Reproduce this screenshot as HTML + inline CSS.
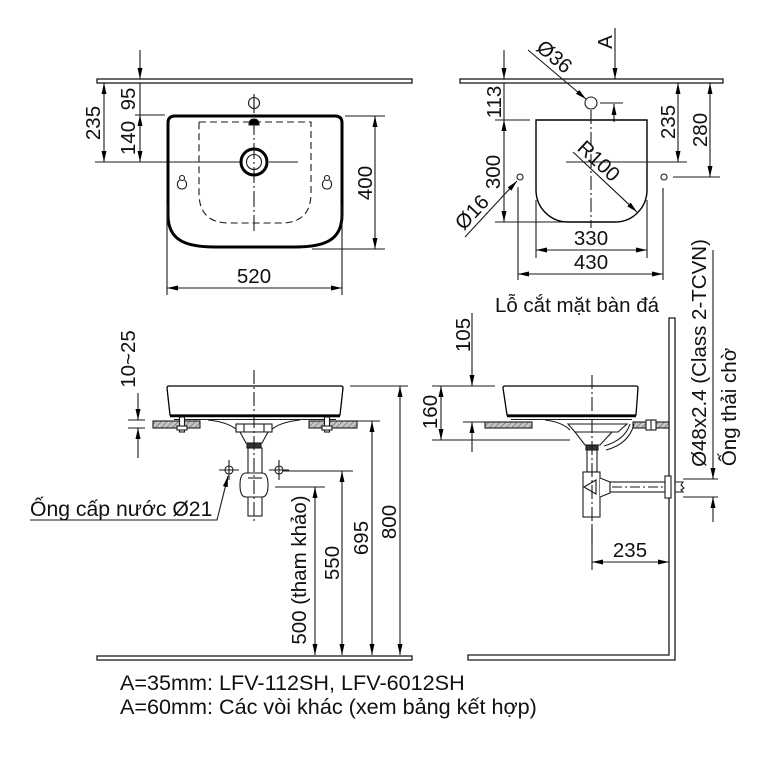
<!DOCTYPE html>
<html><head><meta charset="utf-8">
<style>
html,body{margin:0;padding:0;background:#fff}
svg{display:block}
text{font-family:"Liberation Sans","Noto Sans CJK SC",Arial,sans-serif;font-size:20.5px;fill:#111;stroke:none}
.big{font-size:21.6px}
</style></head>
<body>
<svg width="768" height="768" viewBox="0 0 768 768" xmlns="http://www.w3.org/2000/svg">
<defs>
<marker id="a" viewBox="0 0 11 5" refX="11" refY="2.5" markerWidth="11" markerHeight="5" markerUnits="userSpaceOnUse" orient="auto-start-reverse"><path d="M0,0L11,2.5L0,5z" fill="#000"/></marker>
<pattern id="h" width="4" height="4" patternUnits="userSpaceOnUse" patternTransform="rotate(45)"><rect width="4" height="4" fill="#c4c4c4"/><line x1="0" y1="0" x2="0" y2="4" stroke="#555" stroke-width="1"/></pattern>
</defs>

<g stroke="#1a1a1a" stroke-width="1.1" fill="none">
<!-- ================= TOP LEFT ================= -->
<rect x="97" y="79" width="315" height="4" stroke-width="1.3" fill="#fff"/>
<line x1="140" y1="50" x2="140" y2="79" marker-end="url(#a)"/>
<line x1="140" y1="83" x2="140" y2="115"/>
<line x1="140" y1="115" x2="140" y2="162" marker-start="url(#a)" marker-end="url(#a)"/>
<line x1="104" y1="83" x2="104" y2="162" marker-start="url(#a)" marker-end="url(#a)"/>
<line x1="95" y1="162" x2="240" y2="162"/>
<line x1="269" y1="162" x2="298" y2="162"/>
<line x1="135" y1="115" x2="165" y2="115"/>
<path d="M168,123 Q168,116 175,116 L335,116 Q342,116 342,123 L342,215 C342,240 325,247 295,247 L215,247 C185,247 168,240 168,215 Z" stroke="#000" stroke-width="3"/>
<path d="M199,122 L311,122 L311,193 Q311,223 281,223 L229,223 Q199,223 199,193 Z" stroke-dasharray="7,4"/>
<line x1="254" y1="95" x2="254" y2="233" stroke-dasharray="16,3,2,3"/>
<circle cx="254" cy="162" r="13" stroke="#000" stroke-width="3"/>
<circle cx="254" cy="162" r="7.5"/>
<circle cx="254" cy="103" r="5.5"/>
<line x1="254" y1="94" x2="254" y2="113"/>
<path d="M249,125 Q249,119 254,119 Q259,119 259,125 Z" fill="#000"/>
<circle cx="182" cy="178" r="2.5"/>
<path d="M179.5,180 C176,183 177,189 182,189 C187,189 188,183 184.5,180"/>
<circle cx="327" cy="178" r="2.5"/>
<path d="M324.5,180 C321,183 322,189 327,189 C332,189 333,183 329.5,180"/>
<line x1="345" y1="116" x2="385" y2="116"/>
<line x1="312" y1="249" x2="385" y2="249"/>
<line x1="375" y1="116" x2="375" y2="249" marker-start="url(#a)" marker-end="url(#a)"/>
<line x1="167" y1="205" x2="167" y2="295"/>
<line x1="342" y1="205" x2="342" y2="295"/>
<line x1="167" y1="288" x2="342" y2="288" marker-start="url(#a)" marker-end="url(#a)"/>

<!-- ================= TOP RIGHT ================= -->
<rect x="460" y="79" width="263" height="4" stroke-width="1.3" fill="#fff"/>
<line x1="504" y1="50" x2="504" y2="79" marker-end="url(#a)"/>
<line x1="504" y1="83" x2="504" y2="120"/>
<line x1="504" y1="120" x2="504" y2="222" marker-start="url(#a)" marker-end="url(#a)"/>
<line x1="495" y1="120" x2="530" y2="120"/>
<line x1="495" y1="222" x2="565" y2="222"/>
<line x1="615" y1="28" x2="615" y2="79" marker-end="url(#a)"/>
<line x1="528" y1="50" x2="586" y2="99" marker-end="url(#a)"/>
<circle cx="591" cy="103" r="6"/>
<line x1="600" y1="103" x2="623" y2="103"/>
<line x1="614" y1="122" x2="614" y2="104" marker-end="url(#a)"/>
<path d="M536,120 L647,120 L647,190 A32,32 0 0 1 615,222 L568,222 A32,32 0 0 1 536,190 Z" stroke="#000" stroke-width="1.4"/>
<line x1="591" y1="110" x2="591" y2="228" stroke-dasharray="14,3,2,3"/>
<line x1="566" y1="162" x2="687" y2="162"/>
<line x1="573" y1="152" x2="637" y2="212" marker-end="url(#a)"/>
<line x1="678" y1="83" x2="678" y2="162" marker-start="url(#a)" marker-end="url(#a)"/>
<line x1="710" y1="83" x2="710" y2="177" marker-start="url(#a)" marker-end="url(#a)"/>
<line x1="673" y1="177" x2="720" y2="177"/>
<circle cx="664" cy="177" r="3"/>
<circle cx="520" cy="177" r="3"/>
<line x1="465" y1="237" x2="517" y2="181" marker-end="url(#a)"/>
<line x1="518" y1="187" x2="518" y2="280"/>
<line x1="663" y1="188" x2="663" y2="280"/>
<line x1="536" y1="200" x2="536" y2="258"/>
<line x1="647" y1="200" x2="647" y2="258"/>
<line x1="536" y1="250" x2="647" y2="250" marker-start="url(#a)" marker-end="url(#a)"/>
<line x1="518" y1="274" x2="663" y2="274" marker-start="url(#a)" marker-end="url(#a)"/>

<!-- ================= BOTTOM LEFT ================= -->
<line x1="128" y1="420" x2="145" y2="420"/>
<line x1="128" y1="428" x2="145" y2="428"/>
<line x1="138" y1="393" x2="138" y2="420" marker-end="url(#a)"/>
<line x1="138" y1="458" x2="138" y2="428" marker-end="url(#a)"/>
<path d="M169,386 L341,386 Q343,386 343,388 L340,415 L170,415 L167,388 Q167,386 169,386 Z" stroke="#000" stroke-width="1.3"/>
<line x1="170" y1="416" x2="340" y2="416" stroke="#000" stroke-width="2.5"/>
<line x1="174" y1="419.5" x2="336" y2="419.5"/>
<rect x="153" y="421" width="47" height="7" fill="url(#h)"/>
<rect x="309" y="421" width="48" height="7" fill="url(#h)"/>
<rect x="179.5" y="417" width="5" height="15" fill="#fff"/>
<rect x="177" y="426" width="10" height="4" fill="#fff"/>
<rect x="324.5" y="417" width="5" height="15" fill="#fff"/>
<rect x="322" y="426" width="10" height="4" fill="#fff"/>
<path d="M208,420 Q228,422 237,430 M300,420 Q280,422 271,430"/>
<rect x="236" y="424" width="36" height="8" fill="#fff"/>
<line x1="244" y1="424" x2="244" y2="432"/><line x1="264" y1="424" x2="264" y2="432"/>
<path d="M240,432 L268,432 L262,443 L246,443 Z" fill="#fff"/>
<rect x="247" y="443" width="14" height="5" fill="#333"/>
<rect x="248" y="448" width="14" height="68" fill="#fff"/>
<path d="M246,473 L262,473 Q268,473 268,485 Q268,497 262,497 L246,497 Q240,497 240,485 Q240,473 246,473 Z" fill="#fff"/>
<line x1="248" y1="478" x2="262" y2="478"/>
<line x1="254" y1="370" x2="254" y2="522" stroke-dasharray="14,3,2,3"/>
<circle cx="229" cy="470" r="4"/>
<line x1="219" y1="470" x2="239" y2="470"/><line x1="229" y1="460" x2="229" y2="480"/>
<circle cx="279" cy="470" r="4"/>
<line x1="269" y1="470" x2="289" y2="470"/><line x1="279" y1="460" x2="279" y2="480"/>
<polyline points="30,520 217,520 228,476" marker-end="url(#a)"/>
<line x1="350" y1="386" x2="408" y2="386"/>
<line x1="357" y1="421" x2="380" y2="421"/>
<line x1="283" y1="471" x2="353" y2="471"/>
<line x1="275" y1="487" x2="325" y2="487"/>
<line x1="400" y1="386" x2="400" y2="655" marker-start="url(#a)" marker-end="url(#a)"/>
<line x1="372" y1="421" x2="372" y2="655" marker-start="url(#a)" marker-end="url(#a)"/>
<line x1="342" y1="471" x2="342" y2="655" marker-start="url(#a)" marker-end="url(#a)"/>
<line x1="315" y1="487" x2="315" y2="655" marker-start="url(#a)" marker-end="url(#a)"/>
<rect x="97" y="656" width="315" height="4" stroke-width="1.3" fill="#fff"/>

<!-- ================= BOTTOM RIGHT ================= -->
<path d="M669,318 L669,655 L468,655 L468,660 L675,660 L675,318 Z" stroke-width="1.3" fill="#fff"/>
<path d="M505,386 L636,386 Q638,386 638,388 L636,415 L507,415 L503,388 Q503,386 505,386 Z" stroke="#000" stroke-width="1.3"/>
<line x1="507" y1="416" x2="636" y2="416" stroke="#000" stroke-width="2.5"/>
<line x1="511" y1="419.5" x2="632" y2="419.5"/>
<rect x="485" y="422" width="47" height="6" fill="url(#h)"/>
<rect x="633" y="422" width="36" height="6" fill="url(#h)"/>
<rect x="646" y="420" width="10" height="10" fill="#fff"/>
<line x1="651" y1="420" x2="651" y2="430"/>
<path d="M545,420 Q562,422 570,430"/>
<path d="M568,424 L627,424 L618,432 L575,432 Z" fill="#fff"/>
<path d="M575,432 L612,432 L600,445 L585,445 Z" fill="#fff"/>
<path d="M630,424 Q625,440 604,446"/>
<path d="M634,424 Q629,444 606,450"/>
<rect x="586" y="445" width="12" height="5" fill="#333"/>
<rect x="587" y="450" width="10" height="22" fill="#fff"/>
<rect x="583" y="472" width="17" height="45" fill="#fff"/>
<path d="M600,478 L610,482 L610,493 L600,497" fill="#fff"/>
<path d="M584,487 L596,480 L596,494 Z"/>
<rect x="610" y="482" width="55" height="10" fill="#fff"/>
<line x1="612" y1="487" x2="663" y2="487" stroke-dasharray="10,3,2,3"/>
<rect x="665" y="476" width="6" height="22" fill="#fff"/>
<path d="M675,482 L683,482 L681,485 L684,488 L681,490 L683,492 L675,492"/>
<line x1="592" y1="375" x2="592" y2="545" stroke-dasharray="14,3,2,3"/>
<line x1="432" y1="386" x2="495" y2="386"/>
<line x1="463" y1="422" x2="485" y2="422"/>
<line x1="432" y1="440" x2="570" y2="440"/>
<line x1="472" y1="313" x2="472" y2="386" marker-end="url(#a)"/>
<line x1="472" y1="452" x2="472" y2="422" marker-end="url(#a)"/>
<line x1="441" y1="386" x2="441" y2="440" marker-start="url(#a)" marker-end="url(#a)"/>
<line x1="683" y1="479" x2="718" y2="479"/>
<line x1="683" y1="497" x2="718" y2="497"/>
<line x1="713" y1="250" x2="713" y2="479" marker-end="url(#a)"/>
<line x1="713" y1="522" x2="713" y2="497" marker-end="url(#a)"/>
<line x1="592" y1="525" x2="592" y2="570"/>
<line x1="592" y1="562" x2="669" y2="562" marker-start="url(#a)" marker-end="url(#a)"/>
</g>

<!-- ================= TEXT ================= -->
<text transform="translate(100,123) rotate(-90)" text-anchor="middle">235</text>
<text transform="translate(135,99) rotate(-90)" text-anchor="middle">95</text>
<text transform="translate(135,138) rotate(-90)" text-anchor="middle">140</text>
<text transform="translate(372,183) rotate(-90)" text-anchor="middle">400</text>
<text x="254" y="283" text-anchor="middle">520</text>

<text transform="translate(501,102) rotate(-90)" text-anchor="middle">113</text>
<text transform="translate(500,172) rotate(-90)" text-anchor="middle">300</text>
<text transform="translate(675,122) rotate(-90)" text-anchor="middle">235</text>
<text transform="translate(707,130) rotate(-90)" text-anchor="middle">280</text>
<text transform="translate(612,42) rotate(-90)" text-anchor="middle">A</text>
<text transform="translate(550,62) rotate(40)" text-anchor="middle">Ø36</text>
<text transform="translate(594,166) rotate(43)" text-anchor="middle">R100</text>
<text transform="translate(477,217) rotate(-47)" text-anchor="middle">Ø16</text>
<text x="591" y="245" text-anchor="middle">330</text>
<text x="591" y="269" text-anchor="middle">430</text>
<text x="577" y="312" text-anchor="middle">Lỗ cắt mặt bàn đá</text>

<text transform="translate(135,359) rotate(-90)" text-anchor="middle">10~25</text>
<text x="30" y="516" style="font-size:21.2px">Ống cấp nước Ø21</text>
<text transform="translate(306,570) rotate(-90)" text-anchor="middle">500 (tham khảo)</text>
<text transform="translate(339,563) rotate(-90)" text-anchor="middle">550</text>
<text transform="translate(368,538) rotate(-90)" text-anchor="middle">695</text>
<text transform="translate(396,522) rotate(-90)" text-anchor="middle">800</text>

<text transform="translate(470,335) rotate(-90)" text-anchor="middle">105</text>
<text transform="translate(437,412) rotate(-90)" text-anchor="middle">160</text>
<text transform="translate(706,353) rotate(-90)" text-anchor="middle">Ø48x2.4 (Class 2-TCVN)</text>
<text transform="translate(736,407) rotate(-90)" text-anchor="middle">Ống thải chờ</text>
<text x="630" y="557" text-anchor="middle">235</text>

<text class="big" x="120" y="690">A=35mm: LFV-112SH, LFV-6012SH</text>
<text class="big" x="120" y="714">A=60mm: Các vòi khác (xem bảng kết hợp)</text>
</svg>
</body></html>
